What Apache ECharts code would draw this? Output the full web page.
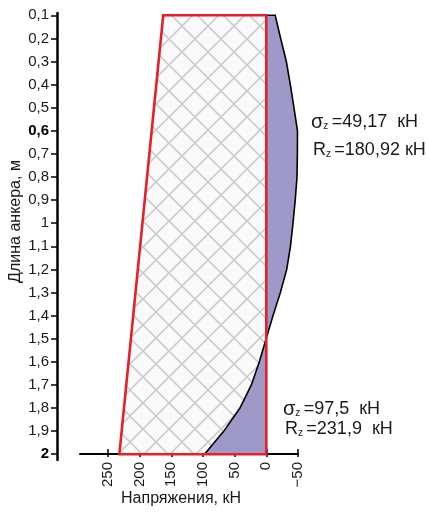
<!DOCTYPE html>
<html>
<head>
<meta charset="utf-8">
<script src="https://cdn.jsdelivr.net/npm/echarts@6/dist/echarts.min.js"></script>
<style>
  html, body { margin: 0; padding: 0; background: #ffffff; }
  #chart { width: 427px; height: 515px; }
</style>
</head>
<body>
<div id="chart"></div>
<script>
// Anchor depth, m (y axis)
const depths = [0.1, 0.2, 0.3, 0.4, 0.5, 0.6, 0.7, 0.8, 0.9, 1.0,
                1.1, 1.2, 1.3, 1.4, 1.5, 1.6, 1.7, 1.8, 1.9, 2.0];
// Stress along the anchor σz, kN (negative = drawn right of zero)
const sigma = [-14, -22.6, -31.6, -37.9, -43.6, -49.17, -49.0, -48.4, -45.6, -42.1,
               -38.1, -32.2, -22.2, -10.6, 0.3, 11, 23.6, 41.6, 67, 97.5];
// Resistance line Rz, kN
const resDepths = [0.1, 0.6, 2.0];
const resValues = [162.7, 180.92, 231.9];
// Axis ticks
const stressTicks = [-50, 0, 50, 100, 150, 200, 250];
const boldDepths = [0.6, 2.0];

const FONT = '"Liberation Sans", Arial, sans-serif';

// Diamond cross-hatch tile
function makeHatch(size) {
  const c = document.createElement('canvas');
  c.width = size; c.height = size;
  const g = c.getContext('2d');
  g.fillStyle = '#fafafa';
  g.fillRect(0, 0, size, size);
  g.strokeStyle = '#cdcdcd';
  g.lineWidth = 1.6;
  g.beginPath();
  g.moveTo(0, 0); g.lineTo(size, size);
  g.moveTo(size, 0); g.lineTo(0, size);
  g.stroke();
  return c;
}
const hatch = { image: makeHatch(26), repeat: 'repeat' };

const resPoly = [[0, depths[0]]]
  .concat(resDepths.map((d, i) => [resValues[i], d]))
  .concat([[0, depths[depths.length - 1]]]);
const sigmaPts = depths.map((d, i) => [sigma[i], d]);
const sigmaPoly = [[0, depths[0]]].concat(sigmaPts).concat([[0, depths[depths.length - 1]]]);
const sigmaLine = [[0, depths[0]]].concat(sigmaPts);

function fmtDepth(v) {
  const r = Math.round(v * 10) / 10;
  const s = String(r).replace('.', ',');
  return boldDepths.some(b => Math.abs(b - r) < 1e-6) ? '{b|' + s + '}' : s;
}

const chart = echarts.init(document.getElementById('chart'), null, { renderer: 'canvas' });

const xCommon = {
  type: 'value', min: -50, max: 294, inverse: true,
  splitLine: { show: false }
};

function note(text, left, top, big) {
  return {
    type: 'text', left: left, top: top,
    style: {
      text: text,
      rich: {
        s: { fontFamily: FONT, fontSize: big ? 20 : 18, fill: '#1a1a1a' },
        z: { fontFamily: FONT, fontSize: 10, fill: '#1a1a1a', padding: [8, 0, 0, 0] },
        t: { fontFamily: FONT, fontSize: 18, fill: '#1a1a1a' }
      }
    }
  };
}

chart.setOption({
  animation: false,
  backgroundColor: '#ffffff',
  grid: { left: 80, right: 129, top: 13, bottom: 55, outerBoundsMode: 'none', containLabel: false },
  xAxis: [
    Object.assign({}, xCommon, {
      position: 'bottom', offset: -6,
      name: 'Напряжения, кН', nameLocation: 'middle', nameGap: 37, nameMoveOverlap: false,
      nameTextStyle: { fontFamily: FONT, fontSize: 16, color: '#1a1a1a', padding: [0, 16, 0, 0] },
      axisLine: { show: true, onZero: false, lineStyle: { color: '#000', width: 2 } },
      axisTick: { show: true, inside: false, length: 3, customValues: stressTicks, lineStyle: { color: '#000', width: 1.5 } },
      axisLabel: {
        show: true, rotate: 90, margin: 8, customValues: stressTicks,
        fontFamily: FONT, fontSize: 15, color: '#1a1a1a',
        formatter: v => (v < 0 ? '\u2212' + Math.abs(v) : String(v))
      }
    }),
    Object.assign({}, xCommon, {
      position: 'bottom', offset: -6,
      axisLine: { show: false, onZero: false },
      axisTick: { show: true, inside: true, length: 5, customValues: stressTicks, lineStyle: { color: '#000', width: 1.5 } },
      axisLabel: { show: false }
    })
  ],
  yAxis: {
    type: 'value', min: 0.09, max: 2.025, inverse: true,
    position: 'left', offset: 23,
    name: 'Длина анкера, м', nameLocation: 'middle', nameGap: 33, nameRotate: 90, nameMoveOverlap: false,
    nameTextStyle: { fontFamily: FONT, fontSize: 16, color: '#1a1a1a', padding: [0, 0, 0, 30] },
    splitLine: { show: false },
    axisLine: { show: true, onZero: false, lineStyle: { color: '#000', width: 2.5 } },
    axisTick: { show: true, inside: false, length: 6, customValues: depths, lineStyle: { color: '#000', width: 1.5 } },
    axisLabel: {
      show: true, margin: 8, customValues: depths,
      fontFamily: FONT, fontSize: 15, color: '#1a1a1a',
      formatter: fmtDepth,
      rich: { b: { fontFamily: FONT, fontSize: 15, fontWeight: 'bold', color: '#000' } }
    }
  },
  series: [{
    type: 'custom',
    xAxisIndex: 0,
    coordinateSystem: 'cartesian2d',
    data: [0],
    renderItem: function (params, api) {
      const toPx = pts => pts.map(p => api.coord(p));
      return {
        type: 'group',
        children: [
          { type: 'polygon', shape: { points: toPx(resPoly) }, style: { fill: hatch, stroke: null } },
          { type: 'polygon', shape: { points: toPx(sigmaPoly) }, style: { fill: '#9f99c9', stroke: null } },
          { type: 'polyline', shape: { points: toPx(sigmaLine) }, style: { fill: null, stroke: '#000', lineWidth: 1.6 } },
          { type: 'polygon', shape: { points: toPx(resPoly) }, style: { fill: null, stroke: '#e5202b', lineWidth: 2.6, lineJoin: 'miter' } }
        ]
      };
    }
  }],
  graphic: [
    note('{s|σ}{z|z} {t|=49,17  кН}', 311, 112, true),
    note('{s|R}{z|z} {t|=180,92 кН}', 313, 141, false),
    note('{s|σ}{z|z} {t|=97,5  кН}', 283, 399, true),
    note('{s|R}{z|z} {t|=231,9  кН}', 285, 420, false)
  ]
});
</script>
</body>
</html>
